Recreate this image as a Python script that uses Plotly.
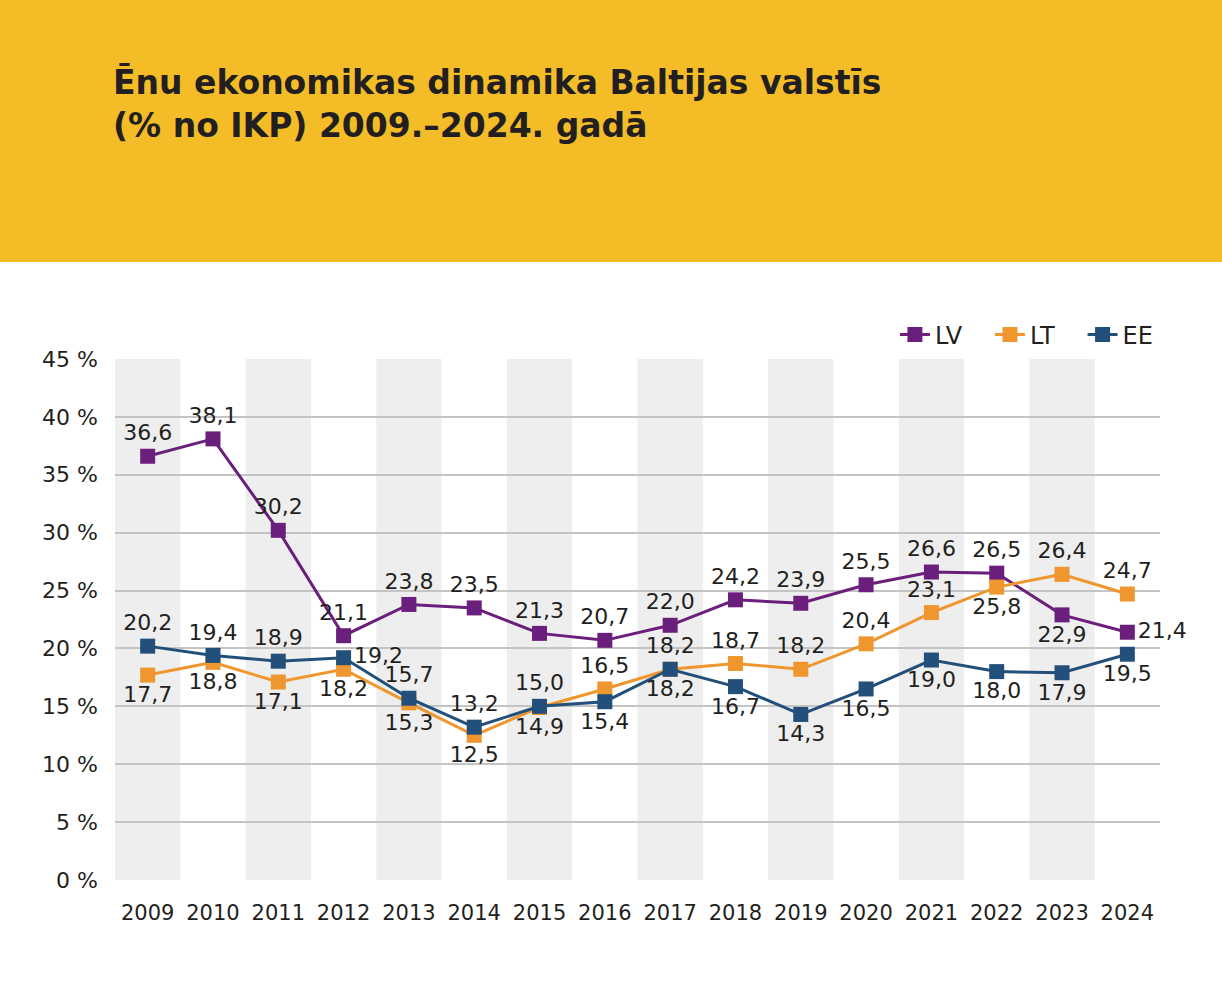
import plotly.graph_objects as go

# Data: shadow economy share of GDP (%) in the Baltic states
years = [str(y) for y in range(2009, 2025)]
lv = [36.6, 38.1, 30.2, 21.1, 23.8, 23.5, 21.3, 20.7, 22.0, 24.2, 23.9, 25.5, 26.6, 26.5, 22.9, 21.4]
lt = [17.7, 18.8, 17.1, 18.2, 15.3, 12.5, 14.9, 16.5, 18.2, 18.7, 18.2, 20.4, 23.1, 25.3, 26.4, 24.7]
ee = [20.2, 19.4, 18.9, 19.2, 15.7, 13.2, 15.0, 15.4, 18.2, 16.7, 14.3, 16.5, 19.0, 18.0, 17.9, 19.5]
lt_labels = ["17,7", "18,8", "17,1", "18,2", "15,3", "12,5", "14,9", "16,5", "18,2", "18,7",
             "18,2", "20,4", "23,1", "25,8", "26,4", "24,7"]

# label placement per point
lv_pos = ["top center"] * 14 + ["bottom center", "middle right"]
lt_pos = ["bottom center"] * 7 + ["top center"] * 6 + ["bottom center", "top center", "top center"]
ee_pos = ["top center"] * 3 + ["middle right"] + ["top center"] * 3 + ["bottom center"] * 9

def fmt(vals):
    return [f"{v:.1f}".replace(".", ",") for v in vals]

FONT = "DejaVu Sans, sans-serif"
TXT = "#231F20"

series = [
    ("LV", lv, fmt(lv), lv_pos, "#6B1F7C"),
    ("LT", lt, lt_labels, lt_pos, "#F0962E"),
    ("EE", ee, fmt(ee), ee_pos, "#22507A"),
]

fig = go.Figure()
for name, vals, labels, pos, color in series:
    fig.add_trace(go.Scatter(
        x=years, y=vals, name=name + "   ",
        mode="lines+markers+text",
        text=labels, textposition=pos,
        textfont=dict(family=FONT, size=22, color=TXT),
        line=dict(color=color, width=3),
        marker=dict(symbol="square", size=15, color=color),
        cliponaxis=False,
    ))

# alternating grey column bands
shapes = []
for i in range(0, len(years), 2):
    shapes.append(dict(type="rect", xref="x", yref="paper", x0=i - 0.5, x1=i + 0.5,
                       y0=0, y1=1, fillcolor="#EFEEEE", line=dict(width=0), layer="below"))

# yellow header band
shapes.append(dict(type="rect", xref="paper", yref="paper", x0=-0.2, x1=1.2,
                   y0=1.186, y1=1.8, fillcolor="#F4BD27", line=dict(width=0), layer="below"))

fig.update_layout(
    width=1222, height=985,
    margin=dict(l=115, r=62, t=359, b=105),
    paper_bgcolor="white", plot_bgcolor="white",
    shapes=shapes,
    font=dict(family=FONT, color=TXT),
    title=dict(
        text="<b>Ēnu ekonomikas dinamika Baltijas valstīs<br>(% no IKP) 2009.–2024. gadā</b>",
        x=113 / 1222, xanchor="left", xref="container",
        y=1 - 94 / 985, yanchor="top", yref="container",
        font=dict(family=FONT, size=33, color=TXT),
    ),
    legend=dict(orientation="h", x=1.02, xanchor="right", y=(880 - 335) / 521, yanchor="middle",
                font=dict(family=FONT, size=24, color=TXT), bgcolor="rgba(0,0,0,0)"),
    showlegend=True,
)
fig.update_xaxes(type="category", showgrid=False, zeroline=False, showline=False,
                 tickfont=dict(family=FONT, size=21, color=TXT), ticklabelstandoff=18,
                 range=[-0.5, len(years) - 0.5])
fig.update_yaxes(range=[0, 45], dtick=5, ticksuffix=" %", showgrid=True, gridcolor="#C4C4C4",
                 gridwidth=1.5, zeroline=False, showline=False,
                 tickfont=dict(family=FONT, size=22, color=TXT), ticklabelstandoff=16)

fig.write_html("out.html", config={"displayModeBar": False},
               post_script="document.body.style.margin='0';")
